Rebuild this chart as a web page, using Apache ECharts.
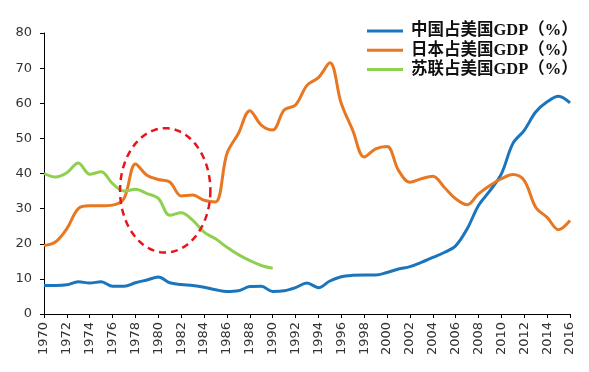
<!DOCTYPE html>
<html><head><meta charset="utf-8">
<script src="https://cdn.jsdelivr.net/npm/echarts@6/dist/echarts.min.js"></script>
<style>html,body{margin:0;padding:0;background:#fff}#c{width:589px;height:372px}</style>
</head><body><div id="c"></div>
<script>
var years = [];
for (var y = 1970; y <= 2016; y++) years.push(String(y));
var yTicks = [0,10,20,30,40,50,60,70,80];
var seriesNames = ['中国占美国GDP（%）','日本占美国GDP（%）','苏联占美国GDP（%）'];
var china = [8.1,8.1,8.3,9.2,8.8,9.2,7.9,7.9,8.9,9.7,10.5,8.9,8.4,8.1,7.6,6.9,6.4,6.6,7.8,7.9,6.4,6.6,7.5,8.8,7.5,9.4,10.6,11.0,11.1,11.1,11.8,12.8,13.5,14.7,16.1,17.5,19.4,24.2,30.9,35.1,39.9,48.5,52.3,57.5,60.4,62.0,60.1];
var japan = [19.5,20.5,24.3,30.0,30.8,30.8,31.0,32.9,42.7,39.5,38.3,37.6,33.6,33.9,32.4,31.9,45.7,51.4,57.9,53.8,52.4,58.1,59.5,65.1,67.3,71.5,59.9,52.3,44.7,47.0,47.7,40.9,37.5,38.5,39.2,36.1,32.8,31.1,34.2,36.6,38.5,39.7,38.0,30.4,27.5,24.0,26.6];
var ussr = [40.0,39.0,40.2,43.0,39.8,40.5,37.1,35.0,35.5,34.3,32.9,28.1,28.8,26.7,23.3,21.4,19.0,16.9,15.2,13.8,13.0];
// highlight ellipse in data units: center year, center value, half-width (years), half-height (value)
var ellipseSpec = {cx: 1980.6, cy: 35.2, rx: 3.95, ry: 17.7};

var colors = ['#1B75BC','#E87722','#8ED04F'];
var chart = echarts.init(document.getElementById('c'));
function mk(name, data, color){
  return {name:name, type:'line', data:data, smooth:0.35, showSymbol:false, symbol:'none',
    lineStyle:{width:3, color:color}, itemStyle:{color:color}, connectNulls:false};
}
chart.setOption({
  animation:false,
  grid:{left:44, right:19, top:33, bottom:58},
  legend:{orient:'vertical', left:362, top:17, itemWidth:36, itemHeight:3, itemGap:1.3, icon:'rect',
    textStyle:{fontFamily:'Liberation Serif, "Noto Sans CJK SC"', fontWeight:'bold', fontSize:16.5, color:'#111', lineHeight:18, padding:[0,0,0,3]},
    data:seriesNames},
  xAxis:{type:'category', data:years, boundaryGap:false,
    axisLine:{lineStyle:{color:'#000', width:1}},
    axisTick:{interval:1, length:4, lineStyle:{color:'#000'}},
    axisLabel:{interval:1, rotate:90, fontFamily:'DejaVu Sans', fontSize:13, color:'#333', margin:8}},
  yAxis:{type:'value', min:0, max:80, interval:10,
    splitLine:{show:false},
    axisLine:{show:true, lineStyle:{color:'#000', width:1}},
    axisTick:{show:true, length:4, lineStyle:{color:'#000'}},
    axisLabel:{fontFamily:'DejaVu Sans', fontSize:13, color:'#333', margin:12,
      formatter:function(v){return yTicks.indexOf(v)>=0? String(v):'';}}},
  series:[mk(seriesNames[0], china, colors[0]), mk(seriesNames[1], japan, colors[1]), mk(seriesNames[2], ussr, colors[2])]
});
function drawEllipse(){
  var p0 = chart.convertToPixel({gridIndex:0}, ['1970', 0]);
  var p1 = chart.convertToPixel({gridIndex:0}, ['1971', 10]);
  var dx = p1[0]-p0[0], dy = p1[1]-p0[1];
  var cx = p0[0] + (ellipseSpec.cx-1970)*dx;
  var cy = p0[1] + ellipseSpec.cy/10*dy;
  var rx = ellipseSpec.rx*dx, ry = Math.abs(ellipseSpec.ry/10*dy);
  var pts = [];
  for (var i=0;i<=120;i++){var t=i/120*Math.PI*2; pts.push([cx+rx*Math.cos(t), cy+ry*Math.sin(t)]);}
  chart.setOption({graphic:[{type:'polygon', shape:{points:pts}, z:10,
    style:{fill:'none', stroke:'#E8141B', lineWidth:2.5, lineDash:[7,5]}}]});
}
drawEllipse();
</script></body></html>
